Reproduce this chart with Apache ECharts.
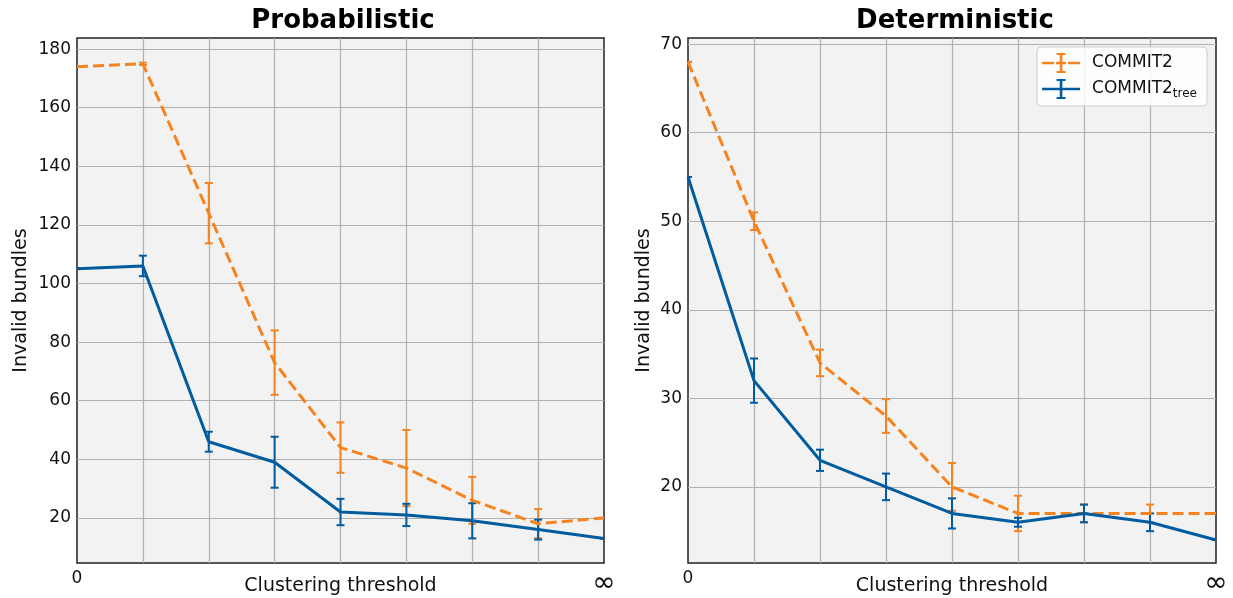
<!DOCTYPE html>
<html>
<head>
<meta charset="utf-8">
<script src="https://cdn.jsdelivr.net/npm/echarts@6/dist/echarts.min.js"></script>
<style>
  html, body { margin: 0; padding: 0; background: #fff; }
  #chart { width: 1233px; height: 598px; }
</style>
</head>
<body>
<div id="chart"></div>
<script>
// x positions 0..8, only the ends are labelled (0 and infinity)
const thresholds = [0, 1, 2, 3, 4, 5, 6, 7, 8]

// Probabilistic
const probCommit2 = [174, 175, 124, 73, 44, 37, 26, 18, 20]
const probCommit2Err = [0, 0.4, 10.3, 11, 8.6, 13, 8, 5, 0]
const probTree = [105, 106, 46, 39, 22, 21, 19, 16, 13]
const probTreeErr = [0, 3.5, 3.4, 8.7, 4.5, 3.8, 6, 3.4, 0]

// Deterministic
const detCommit2 = [68, 50, 34, 28, 20, 17, 17, 17, 17]
const detCommit2Err = [0, 1, 1.5, 1.9, 2.7, 2, 1, 1, 0]
const detTree = [55, 32, 23, 20, 17, 16, 17, 16, 14]
const detTreeErr = [0, 2.5, 1.2, 1.5, 1.7, 0.5, 1, 1, 0]

const ORANGE = '#f5831f'
const BLUE = '#005b9f'
const FONT = 'DejaVu Sans'

const chart = echarts.init(document.getElementById('chart'))

const pts = (ys) => thresholds.map((x, i) => [x, ys[i]])
const bars = (ys, errs) => thresholds.map((x, i) => [x, ys[i] - errs[i], ys[i] + errs[i]])

// vertical error bar with caps
const renderErr = (color) => (params, api) => {
  const x = api.value(0)
  const lo = api.coord([x, api.value(1)])
  const hi = api.coord([x, api.value(2)])
  const cap = 4
  const style = { stroke: color, lineWidth: 2 }
  return {
    type: 'group',
    children: [
      { type: 'line', shape: { x1: lo[0], y1: lo[1], x2: hi[0], y2: hi[1] }, style },
      { type: 'line', shape: { x1: lo[0] - cap, y1: lo[1], x2: lo[0] + cap, y2: lo[1] }, style },
      { type: 'line', shape: { x1: hi[0] - cap, y1: hi[1], x2: hi[0] + cap, y2: hi[1] }, style }
    ]
  }
}

const xAxisFor = (gridIndex) => ({
  type: 'value',
  gridIndex,
  min: 0,
  max: 8,
  interval: 1,
  name: 'Clustering threshold',
  nameLocation: 'middle',
  nameGap: 14,
  nameMoveOverlap: false,
  nameTextStyle: { fontSize: 19, color: '#111', fontFamily: FONT },
  axisLine: { show: false },
  axisTick: { show: false },
  axisLabel: {
    margin: 7,
    color: '#111',
    fontFamily: FONT,
    fontSize: 17,
    formatter: (v) => (v === 0 ? '0' : v === 8 ? '{inf|∞}' : ''),
    rich: { inf: { fontSize: 28, fontFamily: FONT, color: '#111' } }
  },
  splitLine: { show: true, showMinLine: false, showMaxLine: false, lineStyle: { color: '#b0b0b0', width: 1.2 } }
})

const yAxisFor = (gridIndex, min, max, gap) => ({
  type: 'value',
  gridIndex,
  min,
  max,
  splitNumber: gridIndex === 0 ? 9 : 6,
  name: 'Invalid bundles',
  nameLocation: 'middle',
  nameGap: gap,
  nameMoveOverlap: false,
  nameTextStyle: { fontSize: 19, color: '#111', fontFamily: FONT },
  axisLine: { show: false },
  axisTick: { show: false },
  axisLabel: { margin: 6, color: '#111', fontSize: 17, fontFamily: FONT, showMinLabel: false, showMaxLabel: false },
  splitLine: { show: true, showMinLine: false, showMaxLine: false, lineStyle: { color: '#b0b0b0', width: 1.2 } }
})

const lineSeries = (name, data, color, dashed, idx) => ({
  name,
  type: 'line',
  xAxisIndex: idx,
  yAxisIndex: idx,
  data,
  symbol: 'none',
  lineStyle: { color, width: 3, type: dashed ? [11, 5] : 'solid' },
  itemStyle: { color },
  emphasis: { disabled: true },
  animation: false
})

const errSeries = (data, color, idx) => ({
  type: 'custom',
  xAxisIndex: idx,
  yAxisIndex: idx,
  data,
  renderItem: renderErr(color),
  clip: true,
  animation: false,
  silent: true
})

const iconSolid = 'path://M0,8.7h38v2.6H0z M17.7,1h2.6v18h-2.6z M14.5,0h9v2h-9z M14.5,18h9v2h-9z'
const iconDashed = 'path://M0,8.7h12v2.6H0z M14,8.7h10v2.6H14z M26,8.7h12v2.6H26z M17.7,1h2.6v18h-2.6z M14.5,0h9v2h-9z M14.5,18h9v2h-9z'

chart.setOption({
  backgroundColor: '#fff',
  animation: false,
  title: [
    { text: 'Probabilistic', left: 338, top: 3, textAlign: 'center',
      textStyle: { fontSize: 26, fontWeight: 'bold', fontFamily: FONT, color: '#000' } },
    { text: 'Deterministic', left: 950, top: 3, textAlign: 'center',
      textStyle: { fontSize: 26, fontWeight: 'bold', fontFamily: FONT, color: '#000' } }
  ],
  grid: [
    { left: 77, top: 38, width: 527, height: 525, show: true, backgroundColor: '#f2f2f2', borderColor: '#222', borderWidth: 1.5, outerBoundsMode: 'none', containLabel: false },
    { left: 688, top: 38, width: 528, height: 525, show: true, backgroundColor: '#f2f2f2', borderColor: '#222', borderWidth: 1.5, outerBoundsMode: 'none', containLabel: false }
  ],
  xAxis: [xAxisFor(0), xAxisFor(1)],
  yAxis: [yAxisFor(0, 4.6, 183.8, 46), yAxisFor(1, 11.4, 70.7, 34)],
  legend: {
    right: 26,
    top: 47,
    orient: 'vertical',
    itemWidth: 38,
    itemHeight: 20,
    itemGap: 6,
    padding: [6, 10, 6, 5],
    backgroundColor: 'rgba(255,255,255,0.85)',
    borderColor: '#cccccc',
    borderWidth: 1,
    borderRadius: 4,
    selectedMode: false,
    data: [
      { name: 'COMMIT2', icon: iconDashed },
      { name: 'COMMIT2tree', icon: iconSolid }
    ],
    formatter: (name) => (name === 'COMMIT2tree' ? '{m|COMMIT2}{s|tree}' : '{m|COMMIT2}'),
    textStyle: {
      fontFamily: FONT,
      color: '#111',
      rich: {
        m: { fontSize: 17, fontFamily: FONT, color: '#111', lineHeight: 22, padding: [0, 0, 0, 7] },
        s: { fontSize: 12, fontFamily: FONT, color: '#111', verticalAlign: 'bottom', padding: [9, 0, 0, 0] }
      }
    }
  },
  series: [
    lineSeries('COMMIT2', pts(probCommit2), ORANGE, true, 0),
    errSeries(bars(probCommit2, probCommit2Err), ORANGE, 0),
    lineSeries('COMMIT2tree', pts(probTree), BLUE, false, 0),
    errSeries(bars(probTree, probTreeErr), BLUE, 0),
    lineSeries('COMMIT2', pts(detCommit2), ORANGE, true, 1),
    errSeries(bars(detCommit2, detCommit2Err), ORANGE, 1),
    lineSeries('COMMIT2tree', pts(detTree), BLUE, false, 1),
    errSeries(bars(detTree, detTreeErr), BLUE, 1)
  ]
})
</script>
</body>
</html>
